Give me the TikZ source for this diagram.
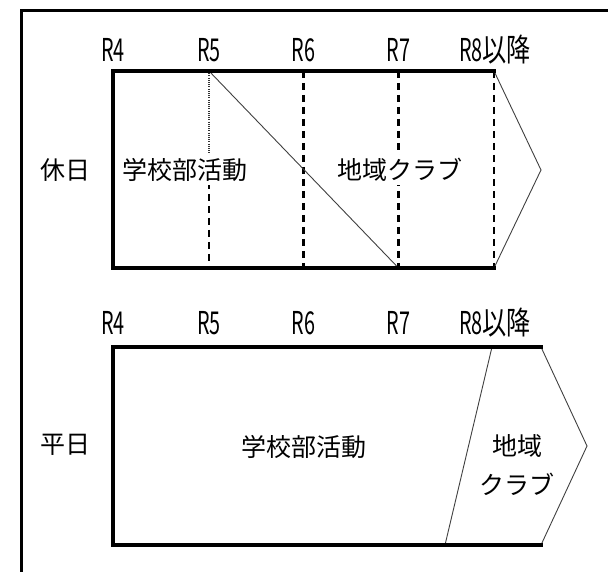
\documentclass[tikz,border=0pt]{standalone}
\usepackage{fontspec}
\usepackage{graphicx}
\setmainfont{Noto Sans CJK JP}
\begin{document}
\begin{tikzpicture}[x=1pt,y=-1pt,
  thickln/.style={line width=3.4pt,line cap=rect},
  thinln/.style={line width=0.9pt,draw=black!75},
  dashln/.style={line width=2.2pt,dash pattern=on 7pt off 5pt},
  dotln/.style={line width=1.6pt,dash pattern=on 1pt off 1.2pt,draw=black!80},
  yr/.style={font=\fontsize{30}{30}\selectfont,inner sep=0pt,xscale=0.66,yscale=1.05},
  jp/.style={font=\fontsize{25}{38}\selectfont,inner sep=1pt},
  jpw/.style={jp,fill=white,inner sep=3pt}]
\useasboundingbox (0,0) rectangle (608,572);
% outer frame
\coordinate (f1) at (21,575);
\coordinate (f2) at (21,11);
\coordinate (f3) at (612,11);
\draw[line width=3pt] (f1) -- (f2) -- (f3);
% ---------- top (holiday) ----------
\coordinate (a1) at (113,71);
\coordinate (a2) at (494,71);
\coordinate (a3) at (494,268);
\coordinate (a4) at (113,268);
\coordinate (at) at (541,170);
\coordinate (r5t) at (209,71);
\coordinate (r5m) at (209,170);
\coordinate (r5b) at (209,268);
\coordinate (r6t) at (303.5,71);
\coordinate (r6b) at (303.5,268);
\coordinate (r7t) at (398.5,71);
\coordinate (r7b) at (398.5,268);
\draw[dotln] (r5t) -- (r5m);
\draw[dashln] (r5m) -- (r5b);
\draw[dashln] (r6t) -- (r6b);
\draw[dashln] (r7t) -- (r7b);
\draw[dashln] (a2) -- (a3);
\draw[thinln] (a2) -- (at) -- (a3);
\draw[thinln] (r5t) -- (r7b);
\draw[thickln] (a2) -- (a1) -- (a4) -- (a3);
\node[jpw] (s1) at (185,170) {学校部活動};
\node[jpw] (c1) at (400,170) {地域クラブ};
\node[jp] (h1) at (65,170) {休日};
\node[yr] (y4a) at (113,50) {R4};
\node[yr] (y5a) at (209,50) {R5};
\node[yr] (y6a) at (303.5,50) {R6};
\node[yr] (y7a) at (398.5,50) {R7};
\node[yr] (y8a) at (495,50) {R8\scalebox{1.22}[1]{以降}};
% ---------- bottom (weekday) ----------
\coordinate (b1) at (113,347);
\coordinate (b2) at (541,347);
\coordinate (b3) at (541,545);
\coordinate (b4) at (113,545);
\coordinate (bt) at (587,446);
\coordinate (d1) at (492,347);
\coordinate (d2) at (445,545);
\draw[thinln] (b2) -- (bt) -- (b3);
\draw[thinln] (d1) -- (d2);
\draw[thickln] (b2) -- (b1) -- (b4) -- (b3);
\node[jp] (s2) at (304,447) {学校部活動};
\node[jp] (c2a) at (517,446) {地域};
\node[jp] (c2b) at (517,484) {クラブ};
\node[jp] (h2) at (65,445) {平日};
\node[yr] (y4b) at (113,323) {R4};
\node[yr] (y5b) at (209,323) {R5};
\node[yr] (y6b) at (303.5,323) {R6};
\node[yr] (y7b) at (398.5,323) {R7};
\node[yr] (y8b) at (495,323) {R8\scalebox{1.22}[1]{以降}};
\end{tikzpicture}
\end{document}
